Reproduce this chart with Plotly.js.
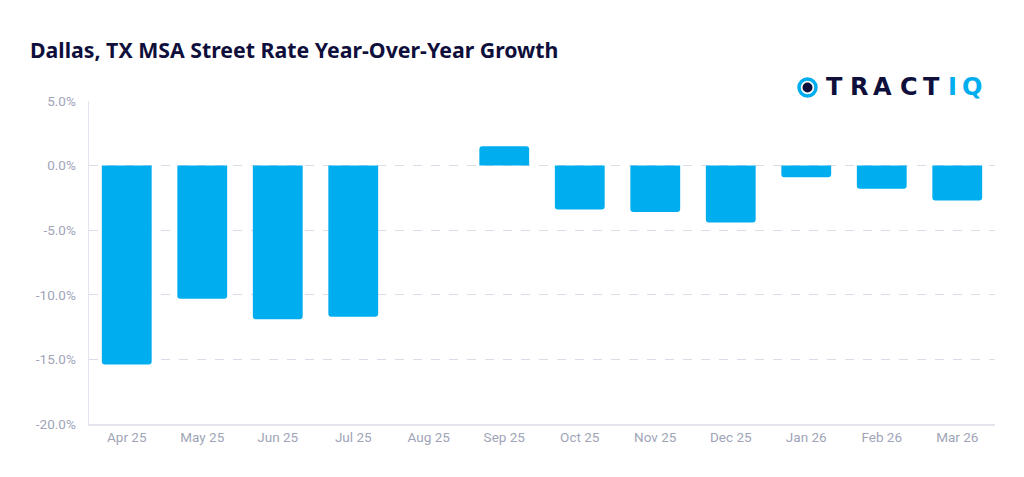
<!DOCTYPE html>
<html>
<head>
<meta charset="utf-8">
<script src="https://cdn.plot.ly/plotly-3.0.1.min.js"></script>
<style>html,body{margin:0;padding:0;background:#fff;}#chart{width:1024px;height:477px;}</style>
</head>
<body>
<div id="chart"></div>
<script>
const months = ["Apr 25","May 25","Jun 25","Jul 25","Aug 25","Sep 25","Oct 25","Nov 25","Dec 25","Jan 26","Feb 26","Mar 26"];
const yoyGrowth = [-15.4,-10.3,-11.9,-11.7,0,1.5,-3.4,-3.6,-4.4,-0.9,-1.8,-2.7];
const yTicks = [5,0,-5,-10,-15,-20];

const logoLetters = ["T","R","A","C","T","I","Q"];
const logoColors = ["#0f0f3c","#0f0f3c","#0f0f3c","#0f0f3c","#0f0f3c","#00AEEF","#00AEEF"];
const logoPx = [834, 858.5, 882, 908.5, 931, 952, 971.5];

const W = 1024, H = 477;
const data = [{
  type: "bar",
  x: months,
  y: yoyGrowth,
  width: 0.66,
  marker: {color: "#00AEEF", cornerradius: 3},
  hoverinfo: "none"
}];

const shapes = [
  {type: "circle", xref: "paper", yref: "paper", layer: "above", xsizemode: "pixel", ysizemode: "pixel",
   xanchor: (807.5-89)/906, yanchor: (424-87.5)/323,
   x0: -8.5, x1: 8.5, y0: -8.5, y1: 8.5,
   line: {color: "#00AEEF", width: 3.5}},
  {type: "circle", xref: "paper", yref: "paper", layer: "above", xsizemode: "pixel", ysizemode: "pixel",
   xanchor: (807.5-89)/906, yanchor: (424-87.5)/323,
   x0: -4, x1: 4, y0: -4, y1: 4,
   fillcolor: "#0f0f3c", line: {color: "#0f0f3c", width: 2}}
];

const annotations = logoLetters.map((ch, i) => ({
  xref: "paper", yref: "paper",
  x: (logoPx[i]-89)/906, y: (424-87.5)/323,
  xanchor: "center", yanchor: "middle", showarrow: false,
  text: "<b>" + ch + "</b>",
  font: {family: "DejaVu Sans, sans-serif", size: 24, color: logoColors[i]}
}));

const layout = {
  width: W, height: H,
  margin: {l: 89, r: 29, t: 101, b: 53},
  paper_bgcolor: "#fff", plot_bgcolor: "#fff",
  showlegend: false,
  title: {
    text: "<b>Dallas, TX MSA Street Rate Year-Over-Year Growth</b>",
    font: {family: "Noto Sans, Open Sans, sans-serif", size: 21.3, color: "#0f0f3c"},
    x: 30/W, xanchor: "left", xref: "container", y: 0.893, yanchor: "middle", yref: "container"
  },
  xaxis: {
    type: "category",
    range: [-0.5, 11.5],
    showgrid: false,
    showline: true, linecolor: "#e4e4ee", linewidth: 1.5,
    ticks: "", ticklen: 0,
    tickfont: {family: "Roboto, sans-serif", size: 13.5, color: "#a0a4b8"},
    fixedrange: true
  },
  yaxis: {
    range: [-20, 5],
    tickvals: yTicks,
    ticktext: yTicks.map(v => v.toFixed(1) + "%"),
    showgrid: true, gridcolor: "#dcdce8", griddash: "dash", gridwidth: 1,
    zeroline: false,
    showline: true, linecolor: "#e4e4ee", linewidth: 1.5,
    ticks: "", ticklabelstandoff: 9,
    tickfont: {family: "Roboto, sans-serif", size: 13.5, color: "#a0a4b8"},
    fixedrange: true
  },
  shapes: shapes,
  annotations: annotations
};

Plotly.newPlot("chart", data, layout, {displayModeBar: false, staticPlot: true});
</script>
</body>
</html>
